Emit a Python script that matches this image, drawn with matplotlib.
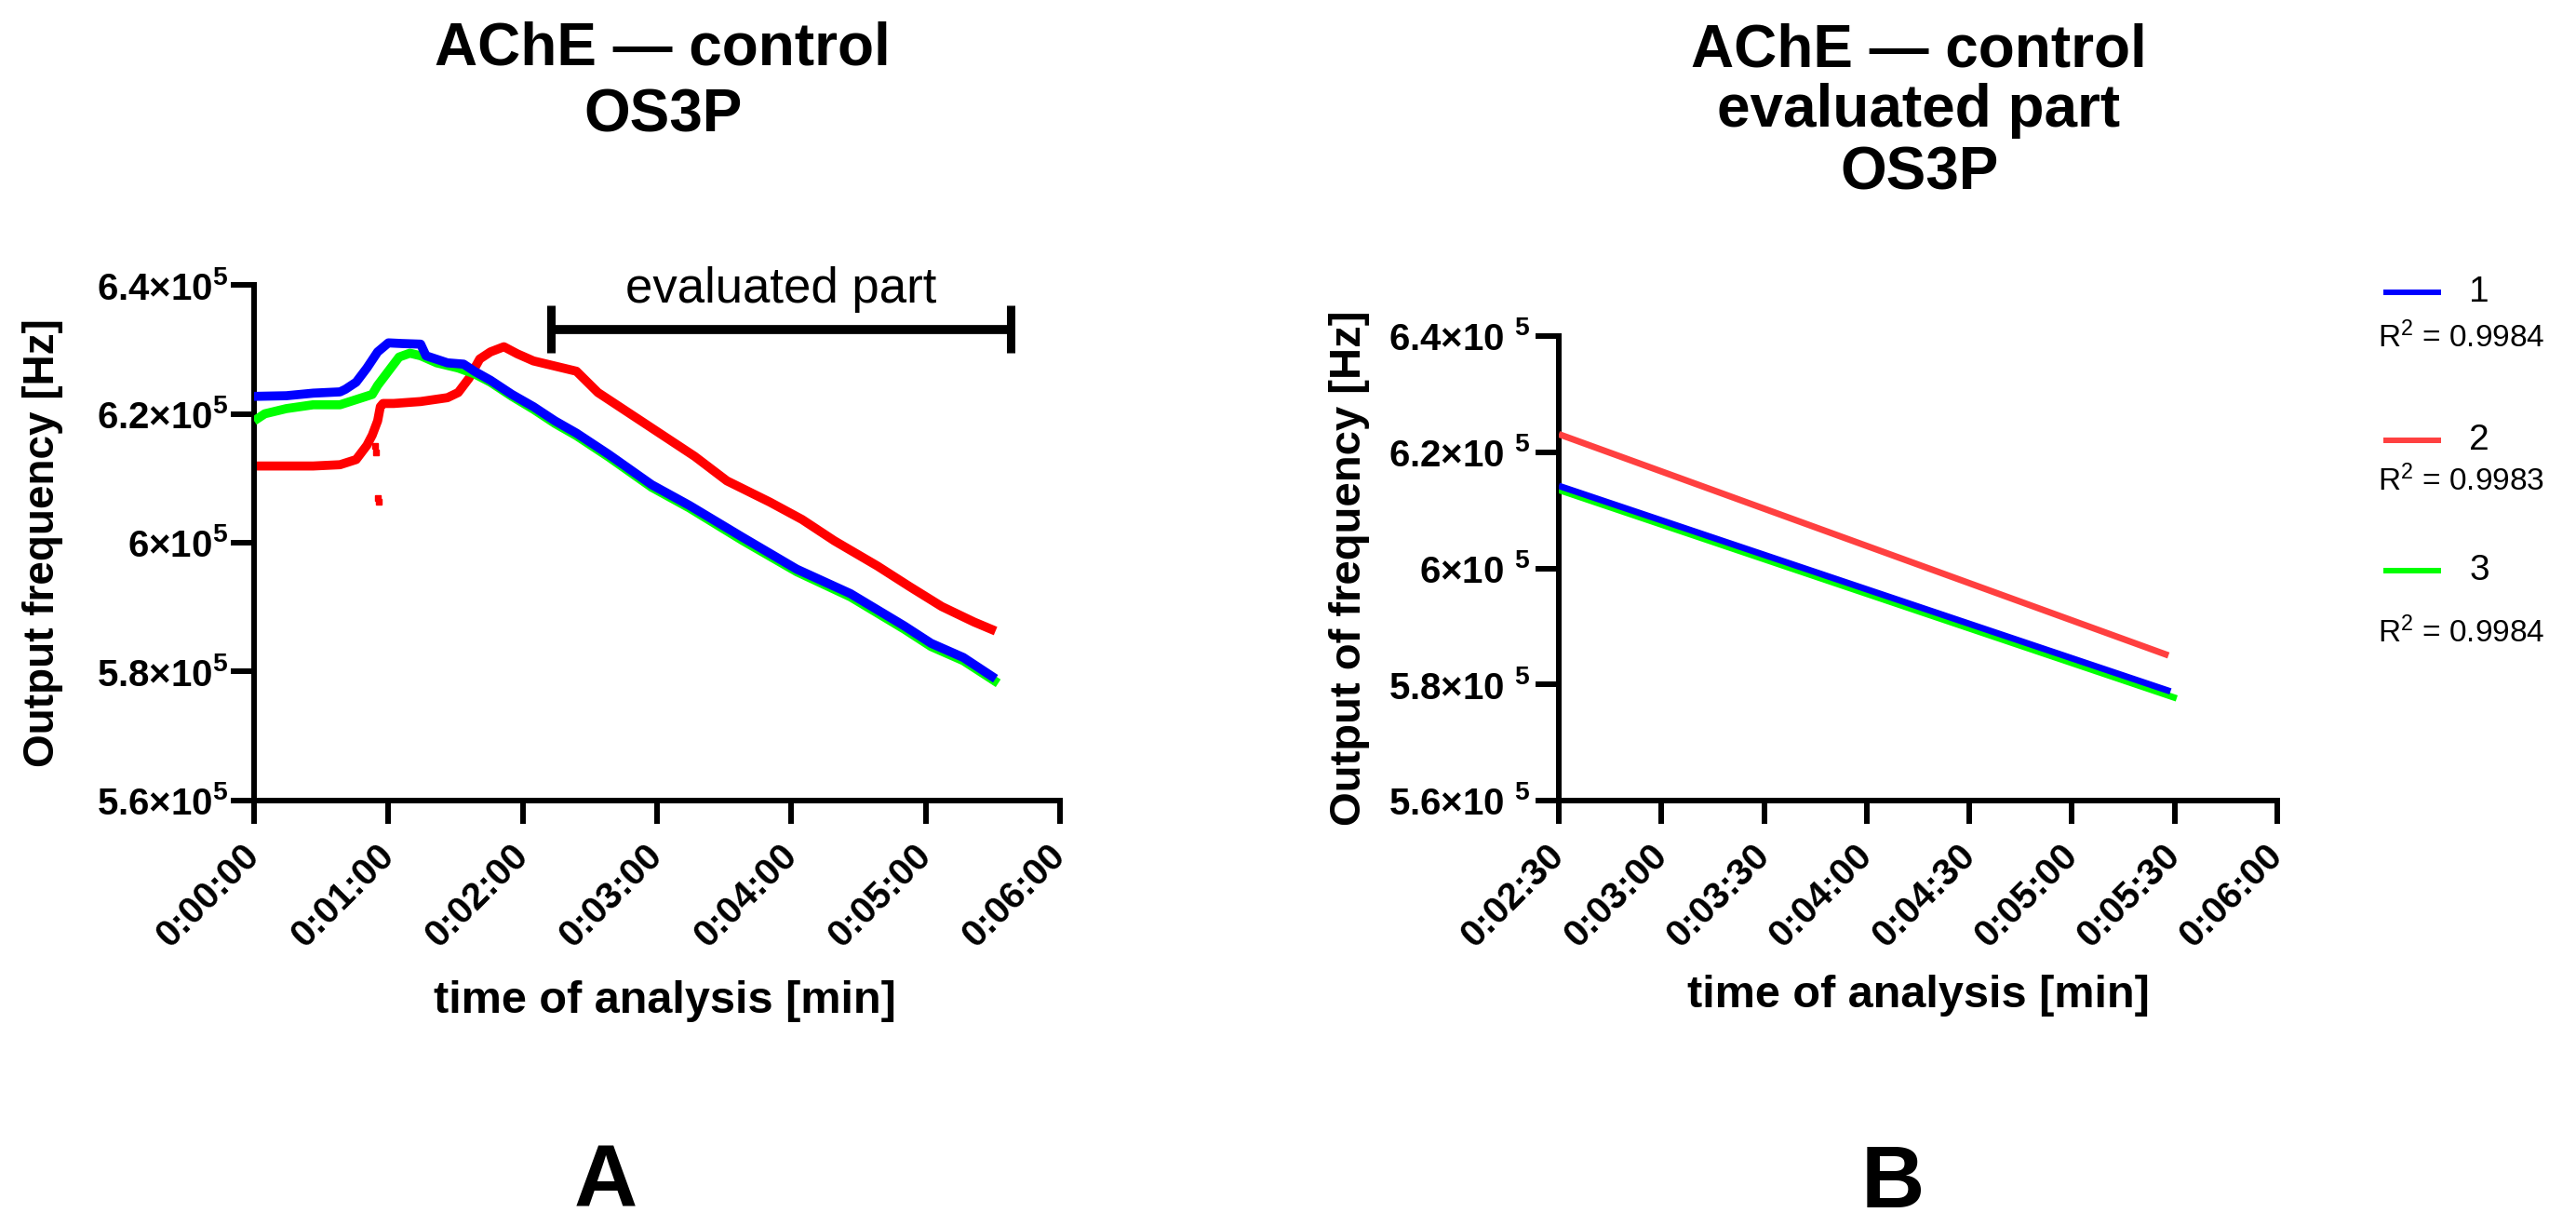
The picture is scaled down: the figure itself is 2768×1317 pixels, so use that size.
import numpy as np
import matplotlib
matplotlib.use("Agg")
import matplotlib.pyplot as plt
from matplotlib.lines import Line2D
from matplotlib.ticker import FuncFormatter, MultipleLocator

plt.rcParams['font.family'] = ['Liberation Sans', 'DejaVu Sans']
plt.rcParams['mathtext.fontset'] = 'custom'
plt.rcParams['mathtext.rm'] = 'Liberation Sans'
plt.rcParams['mathtext.bf'] = 'Liberation Sans:bold'
plt.rcParams['mathtext.default'] = 'bf'

# ---- data (time in minutes, frequency in 1e5 Hz) ----
t_blue = [0, 0.24, 0.44, 0.64, 0.68, 0.76, 0.84, 0.92, 1.0, 1.1, 1.24, 1.28, 1.44, 1.56,
          1.64, 1.76, 1.92, 2.08, 2.24, 2.4, 2.64, 2.96, 3.24, 3.64, 4.04, 4.44, 4.84,
          5.04, 5.28, 5.52]
f_blue = [6.227, 6.228, 6.232, 6.234, 6.238, 6.249, 6.271, 6.296, 6.310, 6.309, 6.308,
          6.290, 6.279, 6.277, 6.266, 6.252, 6.230, 6.211, 6.189, 6.170, 6.137, 6.090,
          6.058, 6.008, 5.959, 5.921, 5.871, 5.844, 5.822, 5.789]

t_green = [0, 0.08, 0.24, 0.44, 0.64, 0.76, 0.88, 0.92, 1.0, 1.08, 1.16, 1.24, 1.36,
           1.52, 1.64, 1.76, 1.92, 2.08, 2.24, 2.4, 2.64, 2.96, 3.24, 3.64, 4.04, 4.44,
           4.84, 5.04, 5.28, 5.54]
f_green = [6.189, 6.200, 6.208, 6.214, 6.214, 6.222, 6.230, 6.244, 6.266, 6.288, 6.294,
           6.290, 6.279, 6.271, 6.262, 6.249, 6.227, 6.207, 6.185, 6.166, 6.133, 6.086,
           6.054, 6.003, 5.955, 5.916, 5.866, 5.839, 5.817, 5.782]

t_red = [0, 0.24, 0.44, 0.64, 0.76, 0.84, 0.88, 0.92, 0.94, 0.96, 1.04, 1.24, 1.44,
         1.52, 1.6, 1.68, 1.76, 1.86, 1.96, 2.08, 2.24, 2.4, 2.56, 2.8, 3.04, 3.28, 3.52,
         3.84, 4.08, 4.32, 4.64, 4.88, 5.12, 5.36, 5.52]
f_red = [6.119, 6.119, 6.119, 6.121, 6.129, 6.151, 6.167, 6.189, 6.211, 6.216, 6.216,
         6.219, 6.225, 6.233, 6.255, 6.285, 6.296, 6.304, 6.293, 6.282, 6.274, 6.266,
         6.233, 6.200, 6.167, 6.134, 6.096, 6.063, 6.036, 6.003, 5.964, 5.932, 5.901,
         5.877, 5.863]
t_red_out = [0.92, 0.93, 0.90, 0.91]
f_red_out = [6.070, 6.064, 6.150, 6.140]

# evaluated part bracket
eval_start, eval_end = 2.21, 5.63
bracket_f, cap_lo, cap_hi = 6.331, 6.295, 6.368

# linear fits of the evaluated part
fit_names = ['1', '2', '3']
fit_r2 = ['0.9984', '0.9983', '0.9984']
fit_t0 = [2.5, 2.5, 2.5]
fit_t1 = [5.48, 5.47, 5.51]
fit_f0 = [6.142, 6.231, 6.135]
fit_f1 = [5.788, 5.850, 5.776]
fit_colors = ['#0000FF', '#FF4040', '#00FF00']

W, H = 2768, 1317
fig = plt.figure(figsize=(W / 100, H / 100), dpi=100)


def fx(x):
    return x / W


def fy(y):
    return 1 - y / H


def hms(x, pos):
    s = int(round(x * 60))
    return f"{s // 3600}:{(s // 60) % 60:02d}:{s % 60:02d}"


def yfmt(space):
    def f(v, pos):
        return f"{v / 1e5:g}×10{space}$^{{5}}$"
    return f


def style_axes(ax, ypad, space):
    for s in ['top', 'right']:
        ax.spines[s].set_visible(False)
    for s in ['left', 'bottom']:
        ax.spines[s].set_linewidth(4.3)
    ax.tick_params(axis='both', length=18, width=4.3, direction='out')
    ax.tick_params(axis='y', labelsize=29, pad=ypad)
    ax.tick_params(axis='x', labelsize=29, pad=20)
    ax.set_ylim(5.6e5, 6.4e5)
    ax.yaxis.set_major_locator(MultipleLocator(0.2e5))
    ax.yaxis.set_major_formatter(FuncFormatter(yfmt(space)))
    ax.xaxis.set_major_formatter(FuncFormatter(hms))
    for lab in ax.get_yticklabels():
        lab.set_fontweight('bold')
    for lab in ax.get_xticklabels():
        lab.set_fontweight('bold')
        lab.set_rotation(45)
        lab.set_ha('right')
        lab.set_va('center')
        lab.set_rotation_mode('anchor')


# ---- panel A ----
axA = fig.add_axes([fx(273), fy(860), fx(866), 554 / H])
axA.set_xlim(0, 6)
axA.xaxis.set_major_locator(MultipleLocator(1))
axA.plot(t_red, np.array(f_red) * 1e5, '-', color='#FF0000', lw=7, solid_joinstyle='round',
         solid_capstyle='butt', zorder=2)
axA.plot(t_red_out, np.array(f_red_out) * 1e5, 's', color='#FF0000', ms=5, zorder=2)
axA.plot(t_green, np.array(f_green) * 1e5, '-', color='#00FF00', lw=7, solid_joinstyle='round',
         solid_capstyle='butt', zorder=3)
axA.plot(t_blue, np.array(f_blue) * 1e5, '-', color='#0000FF', lw=7, solid_joinstyle='round',
         solid_capstyle='butt', zorder=4)
style_axes(axA, 2, '')

axA.plot([eval_start, eval_end], [bracket_f * 1e5] * 2, color='black', lw=7, clip_on=False,
         solid_capstyle='butt')
for tb in (eval_start, eval_end):
    axA.plot([tb, tb], [cap_lo * 1e5, cap_hi * 1e5], color='black', lw=6.5, clip_on=False,
             solid_capstyle='butt')
axA.text((eval_start + eval_end) / 2 + 0.0, 6.373e5, 'evaluated part', ha='center',
         va='baseline', fontsize=38)

axA.set_xlabel('time of analysis [min]', fontsize=35, fontweight='bold')
axA.xaxis.set_label_coords(0.51, (860 - 1076) / 554)
axA.xaxis.label.set_va('center')
axA.set_ylabel('Output frequency [Hz]', fontsize=33, fontweight='bold')
axA.yaxis.set_label_coords((46 - 273) / 866, 0.5)
axA.yaxis.label.set_va('center')

# ---- panel B ----
axB = fig.add_axes([fx(1675), fy(860), fx(772), 499 / H])
axB.set_xlim(2.5, 6)
axB.xaxis.set_major_locator(MultipleLocator(0.5))
for i in [2, 0, 1]:
    axB.plot([fit_t0[i], fit_t1[i]], [fit_f0[i] * 1e5, fit_f1[i] * 1e5], color=fit_colors[i],
             lw=5, solid_capstyle='butt', zorder=3)
style_axes(axB, 4, ' ')
axB.set_xlabel('time of analysis [min]', fontsize=35, fontweight='bold')
axB.xaxis.set_label_coords(0.5, (860 - 1069) / 499)
axB.xaxis.label.set_va('center')
axB.set_ylabel('Output of frequency [Hz]', fontsize=34, fontweight='bold')
axB.yaxis.set_label_coords((1450 - 1675) / 772, 0.5)
axB.yaxis.label.set_va('center')

# ---- titles and panel letters ----
for txt, yb in zip(['AChE — control', 'OS3P'], [69, 141]):
    fig.text(fx(712), fy(yb), txt, ha='center', va='baseline', fontsize=46, fontweight='bold')
for txt, yb in zip(['AChE — control', 'evaluated part', 'OS3P'], [71, 136, 203]):
    fig.text(fx(2062), fy(yb), txt, ha='center', va='baseline', fontsize=46, fontweight='bold')
fig.text(fx(651), fy(1297), 'A', ha='center', va='baseline', fontsize=68, fontweight='bold')
fig.text(fx(2034), fy(1297), 'B', ha='center', va='baseline', fontsize=68, fontweight='bold')

# ---- legend with R^2 ----
for i, (ly, ry) in enumerate(zip([314, 473, 613], [363, 517, 680])):
    fig.add_artist(Line2D([fx(2564), fx(2620)], [fy(ly), fy(ly)], color=fit_colors[i],
                          lw=4.3, transform=fig.transFigure))
    fig.text(fx(2664), fy(ly), fit_names[i], ha='center', va='center', fontsize=28)
    fig.text(fx(2555), fy(ry), f'R$^{{\\mathrm{{2}}}}$ = {fit_r2[i]}', ha='left', va='center',
             fontsize=24)

fig.savefig('out.png', dpi=100)
